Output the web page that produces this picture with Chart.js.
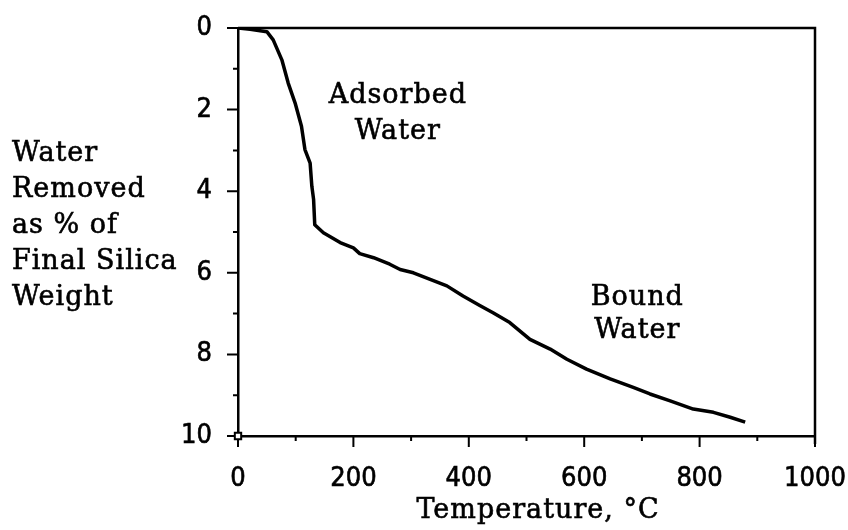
<!DOCTYPE html>
<html>
<head>
<meta charset="utf-8">
<script src="https://cdn.jsdelivr.net/npm/chart.js@4.4.1/dist/chart.umd.min.js"></script>
<style>
  html, body { margin: 0; padding: 0; background: #fff; }
  canvas { display: block; }
</style>
</head>
<body>
<canvas id="chart" width="848" height="530"></canvas>
<script>
// ==============================
// DATA
// ==============================
// temperature in °C
const temperature = [0, 21, 50, 61, 76, 87, 99, 110, 116, 125, 128, 131, 133, 148, 177, 200, 211,
  235, 263, 281, 304, 333, 362, 390, 419, 442, 471, 506, 541, 570, 604, 645, 685, 714, 749,
  789, 824, 853, 879];
// water removed, % of final silica weight
const waterRemoved = [0, 0.03, 0.09, 0.29, 0.78, 1.35, 1.84, 2.41, 2.98, 3.31, 3.88, 4.2, 4.82,
  5.02, 5.26, 5.39, 5.53, 5.63, 5.79, 5.92, 6.0, 6.16, 6.32, 6.57, 6.8, 6.98, 7.22, 7.63, 7.87,
  8.12, 8.36, 8.6, 8.81, 8.97, 9.14, 9.34, 9.42, 9.54, 9.66];

const xTicks = [0, 200, 400, 600, 800, 1000];
const yTicks = [0, 2, 4, 6, 8, 10];

const xTitle = "Temperature, °C";
const yTitleLines = ["Water", "Removed", "as % of", "Final Silica", "Weight"];
const adsorbedLines = ["Adsorbed", "Water"];
const boundLines = ["Bound", "Water"];

const points = temperature.map((t, i) => ({ x: t, y: waterRemoved[i] }));

const SERIF = "27px 'DejaVu Serif', serif";
const TICK_FONT = { family: "'DejaVu Sans Condensed', 'Liberation Sans Narrow', sans-serif", size: 27 };

// keep the plot box fixed, labels may hang over the padding
function noScalePadding(s) {
  s.paddingLeft = 0;
  s.paddingRight = 0;
  s.paddingTop = 0;
  s.paddingBottom = 0;
}

// ==============================
// FRAME, TICK MARKS, TEXT
// ==============================
const frame = {
  id: "frame",
  beforeDatasetsDraw(chart) {
    const { ctx, chartArea: a, scales: { x, y } } = chart;
    ctx.save();
    ctx.strokeStyle = "#000";
    ctx.lineWidth = 2.5;
    ctx.beginPath();
    ctx.moveTo(a.left, a.top);
    ctx.lineTo(a.right, a.top);
    ctx.lineTo(a.right, a.bottom + 8);
    ctx.stroke();

    // major / minor ticks, outside the plot
    ctx.lineWidth = 2;
    ctx.beginPath();
    for (let v = 0; v <= 1000; v += 100) {
      const px = x.getPixelForValue(v);
      const len = v % 200 === 0 ? 11 : 5;
      ctx.moveTo(px, a.bottom);
      ctx.lineTo(px, a.bottom + len);
    }
    for (let v = 0; v <= 10; v += 1) {
      const py = y.getPixelForValue(v);
      const len = v % 2 === 0 ? 11 : 5;
      ctx.moveTo(a.left, py);
      ctx.lineTo(a.left - len, py);
    }
    ctx.stroke();
    ctx.restore();
  },
  afterDraw(chart) {
    const { ctx, scales: { x, y } } = chart;
    ctx.save();
    ctx.fillStyle = "#000";
    ctx.strokeStyle = "#000";
    ctx.lineWidth = 0.6;
    ctx.font = SERIF;
    ctx.letterSpacing = "1px";
    ctx.textBaseline = "alphabetic";
    const put = (s, px, py) => { ctx.fillText(s, px, py); ctx.strokeText(s, px, py); };

    // y title, left aligned block
    ctx.textAlign = "left";
    yTitleLines.forEach((s, i) => put(s, 12, 161 + i * 36));

    // x title
    ctx.textAlign = "center";
    put(xTitle, 538, 518);

    // region labels placed in data units
    const ax = x.getPixelForValue(277), ay = y.getPixelForValue(1.83);
    adsorbedLines.forEach((s, i) => put(s, ax, ay + i * 36));
    const bx = x.getPixelForValue(692), by = y.getPixelForValue(6.8);
    boundLines.forEach((s, i) => put(s, bx, by + i * 33));
    ctx.restore();
  }
};

// ==============================
// CHART
// ==============================
new Chart(document.getElementById("chart"), {
  type: "scatter",
  data: {
    datasets: [
      {
        data: points,
        showLine: true,
        borderColor: "#000",
        borderWidth: 3.5,
        borderJoinStyle: "round",
        pointRadius: 0,
        tension: 0
      },
      {
        // origin marker
        data: [{ x: 0, y: 10 }],
        pointStyle: "rect",
        pointRadius: 4.5,
        pointBorderWidth: 2,
        pointBorderColor: "#000",
        pointBackgroundColor: "#fff",
        clip: false
      }
    ]
  },
  options: {
    responsive: false,
    animation: false,
    layout: { padding: { top: 28, right: 33, left: 0, bottom: 0 } },
    plugins: { legend: { display: false }, tooltip: { enabled: false } },
    scales: {
      x: {
        type: "linear",
        min: 0,
        max: 1000,
        afterBuildTicks: s => { s.ticks = xTicks.map(v => ({ value: v })); },
        afterFit: s => { s.height = 94; noScalePadding(s); },
        grid: { display: false, drawTicks: false },
        border: { display: true, color: "#000", width: 2.5 },
        ticks: {
          color: "#000", font: TICK_FONT, padding: 27, maxRotation: 0,
          textStrokeColor: "#000", textStrokeWidth: 0.6, callback: v => String(v)
        }
      },
      y: {
        type: "linear",
        reverse: true,
        min: 0,
        max: 10,
        afterBuildTicks: s => { s.ticks = yTicks.map(v => ({ value: v })); },
        afterFit: s => { s.width = 238; noScalePadding(s); },
        grid: { display: false, drawTicks: false },
        border: { display: true, color: "#000", width: 2.5 },
        ticks: {
          color: "#000", font: TICK_FONT, padding: 26,
          textStrokeColor: "#000", textStrokeWidth: 0.6, callback: v => String(v)
        }
      }
    }
  },
  plugins: [frame]
});
</script>
</body>
</html>
